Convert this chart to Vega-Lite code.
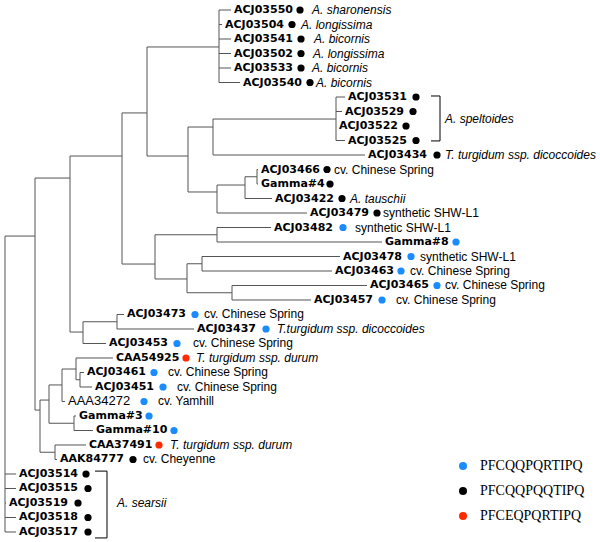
{
  "$schema": "https://vega.github.io/schema/vega-lite/v6.json",
  "width": 600,
  "height": 542,
  "autosize": {"type": "none"},
  "padding": 0,
  "background": "white",
  "config": {"view": {"stroke": null}},
  "datasets": {
    "leaves": [
      {"row": 0, "id": "ACJ03550", "parent": 219, "tip": 231, "dotX": 300, "seq": "PFCQQPQQTIPQ", "note": "A. sharonensis", "kind": "species", "noteX": 312},
      {"row": 1, "id": "ACJ03504", "parent": 219, "tip": 222, "dotX": 292, "seq": "PFCQQPQQTIPQ", "note": "A. longissima", "kind": "species", "noteX": 301},
      {"row": 2, "id": "ACJ03541", "parent": 219, "tip": 231, "dotX": 301, "seq": "PFCQQPQQTIPQ", "note": "A. bicornis", "kind": "species", "noteX": 314},
      {"row": 3, "id": "ACJ03502", "parent": 219, "tip": 231, "dotX": 301, "seq": "PFCQQPQQTIPQ", "note": "A. longissima", "kind": "species", "noteX": 313},
      {"row": 4, "id": "ACJ03533", "parent": 219, "tip": 231, "dotX": 301, "seq": "PFCQQPQQTIPQ", "note": "A. bicornis", "kind": "species", "noteX": 312},
      {"row": 5, "id": "ACJ03540", "parent": 219, "tip": 240, "dotX": 310, "seq": "PFCQQPQQTIPQ", "note": "A. bicornis", "kind": "species", "noteX": 316},
      {"row": 6, "id": "ACJ03531", "parent": 336, "tip": 345, "dotX": 416, "seq": "PFCQQPQQTIPQ", "note": "", "kind": "none", "noteX": 0},
      {"row": 7, "id": "ACJ03529", "parent": 336, "tip": 342, "dotX": 413, "seq": "PFCQQPQQTIPQ", "note": "", "kind": "none", "noteX": 0},
      {"row": 8, "id": "ACJ03522", "parent": 336, "tip": 336, "dotX": 406, "seq": "PFCQQPQQTIPQ", "note": "", "kind": "none", "noteX": 0},
      {"row": 9, "id": "ACJ03525", "parent": 336, "tip": 345, "dotX": 416, "seq": "PFCQQPQQTIPQ", "note": "", "kind": "none", "noteX": 0},
      {"row": 10, "id": "ACJ03434", "parent": 213, "tip": 365, "dotX": 437, "seq": "PFCQQPQQTIPQ", "note": "T. turgidum ssp. dicoccoides", "kind": "species", "noteX": 445},
      {"row": 11, "id": "ACJ03466", "parent": 257, "tip": 258, "dotX": 327, "seq": "PFCQQPQQTIPQ", "note": "cv. Chinese Spring", "kind": "line", "noteX": 334},
      {"row": 12, "id": "Gamma#4", "parent": 257, "tip": 258, "dotX": 330, "seq": "PFCQQPQQTIPQ", "note": "", "kind": "none", "noteX": 0},
      {"row": 13, "id": "ACJ03422", "parent": 245, "tip": 272, "dotX": 342, "seq": "PFCQQPQQTIPQ", "note": "A. tauschii", "kind": "species", "noteX": 350},
      {"row": 14, "id": "ACJ03479", "parent": 217, "tip": 307, "dotX": 377, "seq": "PFCQQPQQTIPQ", "note": "synthetic SHW-L1", "kind": "line", "noteX": 383},
      {"row": 15, "id": "ACJ03482", "parent": 217, "tip": 271, "dotX": 343, "seq": "PFCQQPQRTIPQ", "note": "synthetic SHW-L1", "kind": "line", "noteX": 355},
      {"row": 16, "id": "Gamma#8", "parent": 217, "tip": 382, "dotX": 456, "seq": "PFCQQPQRTIPQ", "note": "", "kind": "none", "noteX": 0},
      {"row": 17, "id": "ACJ03478", "parent": 202, "tip": 340, "dotX": 411, "seq": "PFCQQPQRTIPQ", "note": "synthetic SHW-L1", "kind": "line", "noteX": 420},
      {"row": 18, "id": "ACJ03463", "parent": 202, "tip": 332, "dotX": 401, "seq": "PFCQQPQRTIPQ", "note": "cv. Chinese Spring", "kind": "line", "noteX": 410},
      {"row": 19, "id": "ACJ03465", "parent": 232, "tip": 367, "dotX": 437, "seq": "PFCQQPQRTIPQ", "note": "cv. Chinese Spring", "kind": "line", "noteX": 445},
      {"row": 20, "id": "ACJ03457", "parent": 232, "tip": 311, "dotX": 382, "seq": "PFCQQPQRTIPQ", "note": "cv. Chinese Spring", "kind": "line", "noteX": 396},
      {"row": 21, "id": "ACJ03473", "parent": 117, "tip": 124, "dotX": 195, "seq": "PFCQQPQRTIPQ", "note": "cv. Chinese Spring", "kind": "line", "noteX": 204},
      {"row": 22, "id": "ACJ03437", "parent": 117, "tip": 194, "dotX": 266, "seq": "PFCQQPQRTIPQ", "note": "T.turgidum ssp. dicoccoides", "kind": "species", "noteX": 277},
      {"row": 23, "id": "ACJ03453", "parent": 83, "tip": 106, "dotX": 177, "seq": "PFCQQPQRTIPQ", "note": "cv. Chinese Spring", "kind": "line", "noteX": 193},
      {"row": 24, "id": "CAA54925", "parent": 76, "tip": 113, "dotX": 186, "seq": "PFCEQPQRTIPQ", "note": "T. turgidum ssp. durum", "kind": "species", "noteX": 196},
      {"row": 25, "id": "ACJ03461", "parent": 80, "tip": 84, "dotX": 154, "seq": "PFCQQPQRTIPQ", "note": "cv. Chinese Spring", "kind": "line", "noteX": 168},
      {"row": 26, "id": "ACJ03451", "parent": 80, "tip": 92, "dotX": 163, "seq": "PFCQQPQRTIPQ", "note": "cv. Chinese Spring", "kind": "line", "noteX": 177},
      {"row": 27, "id": "AAA34272", "parent": 62, "tip": 65, "dotX": 144, "seq": "PFCQQPQRTIPQ", "note": "cv. Yamhill", "kind": "line", "noteX": 158},
      {"row": 28, "id": "Gamma#3", "parent": 74, "tip": 76, "dotX": 149, "seq": "PFCQQPQRTIPQ", "note": "", "kind": "none", "noteX": 0},
      {"row": 29, "id": "Gamma#10", "parent": 74, "tip": 93, "dotX": 174, "seq": "PFCQQPQRTIPQ", "note": "", "kind": "none", "noteX": 0},
      {"row": 30, "id": "CAA37491", "parent": 55, "tip": 86, "dotX": 159, "seq": "PFCEQPQRTIPQ", "note": "T. turgidum ssp. durum", "kind": "species", "noteX": 170},
      {"row": 31, "id": "AAK84777", "parent": 55, "tip": 57, "dotX": 133, "seq": "PFCQQPQQTIPQ", "note": "cv. Cheyenne", "kind": "line", "noteX": 143},
      {"row": 32, "id": "ACJ03514", "parent": 5, "tip": 16, "dotX": 86, "seq": "PFCQQPQQTIPQ", "note": "", "kind": "none", "noteX": 0},
      {"row": 33, "id": "ACJ03515", "parent": 5, "tip": 16, "dotX": 88, "seq": "PFCQQPQQTIPQ", "note": "", "kind": "none", "noteX": 0},
      {"row": 34, "id": "ACJ03519", "parent": 5, "tip": 6, "dotX": 78, "seq": "PFCQQPQQTIPQ", "note": "", "kind": "none", "noteX": 0},
      {"row": 35, "id": "ACJ03518", "parent": 5, "tip": 16, "dotX": 88, "seq": "PFCQQPQQTIPQ", "note": "", "kind": "none", "noteX": 0},
      {"row": 36, "id": "ACJ03517", "parent": 5, "tip": 16, "dotX": 88, "seq": "PFCQQPQQTIPQ", "note": "", "kind": "none", "noteX": 0}
    ],
    "nodes": [
      {"node": "R", "x": 5, "top": 15.59, "bot": 36, "px": 5, "cy": 15.59},
      {"node": "N35", "x": 35, "top": 11.59, "bot": 27.59, "px": 5, "cy": 15.59},
      {"node": "N70", "x": 70, "top": 10.07, "bot": 22.21, "px": 35, "cy": 11.59},
      {"node": "N122", "x": 122, "top": 7.1, "bot": 17.52, "px": 70, "cy": 10.07},
      {"node": "N147", "x": 147, "top": 2.55, "bot": 10.07, "px": 122, "cy": 7.1},
      {"node": "N219", "x": 219, "top": 0, "bot": 5, "px": 147, "cy": 2.55},
      {"node": "N188", "x": 188, "top": 8.07, "bot": 12.55, "px": 147, "cy": 10.07},
      {"node": "N213", "x": 213, "top": 7.52, "bot": 10, "px": 188, "cy": 8.07},
      {"node": "N336", "x": 336, "top": 6, "bot": 9, "px": 213, "cy": 7.52},
      {"node": "N217a", "x": 217, "top": 12.07, "bot": 14, "px": 188, "cy": 12.55},
      {"node": "N245", "x": 245, "top": 11.5, "bot": 13, "px": 217, "cy": 12.07},
      {"node": "N257", "x": 257, "top": 11, "bot": 12, "px": 245, "cy": 11.5},
      {"node": "N155", "x": 155, "top": 15.5, "bot": 18.55, "px": 122, "cy": 17.52},
      {"node": "N217b", "x": 217, "top": 15, "bot": 16, "px": 155, "cy": 15.5},
      {"node": "N187", "x": 187, "top": 17.5, "bot": 19.5, "px": 155, "cy": 18.55},
      {"node": "N202", "x": 202, "top": 17, "bot": 18, "px": 187, "cy": 17.5},
      {"node": "N232", "x": 232, "top": 19, "bot": 20, "px": 187, "cy": 19.5},
      {"node": "N83", "x": 83, "top": 21.5, "bot": 23, "px": 70, "cy": 22.21},
      {"node": "N117", "x": 117, "top": 21, "bot": 22, "px": 83, "cy": 21.5},
      {"node": "N40", "x": 40, "top": 26.9, "bot": 30.5, "px": 35, "cy": 27.59},
      {"node": "N49", "x": 49, "top": 25.86, "bot": 28.5, "px": 40, "cy": 26.9},
      {"node": "N62", "x": 62, "top": 24.76, "bot": 27, "px": 49, "cy": 25.86},
      {"node": "N76", "x": 76, "top": 24, "bot": 25.5, "px": 62, "cy": 24.76},
      {"node": "N80", "x": 80, "top": 25, "bot": 26, "px": 76, "cy": 25.5},
      {"node": "N74", "x": 74, "top": 28, "bot": 29, "px": 49, "cy": 28.5},
      {"node": "N55", "x": 55, "top": 30, "bot": 31, "px": 40, "cy": 30.5}
    ],
    "brackets": [
      {"group": "A. speltoides", "x": 440, "x0": 431, "top": 5.93, "bot": 9.03, "labelX": 445, "labelRow": 7.5},
      {"group": "A. searsii", "x": 107, "x0": 95, "top": 31.8, "bot": 36.41, "labelX": 117, "labelRow": 34}
    ]
  },
  "layer": [
    {
      "data": {"name": "leaves"},
      "mark": {"type": "rule", "color": "#555555", "strokeWidth": 1},
      "encoding": {
        "x": {"field": "parent", "type": "quantitative", "scale": {"domain": [0, 600], "nice": false, "zero": false}, "axis": null},
        "x2": {"field": "tip"},
        "y": {"field": "row", "type": "quantitative", "scale": {"domain": [-0.69, 36.69], "reverse": true, "nice": false, "zero": false}, "axis": null}
      }
    },
    {
      "data": {"name": "nodes"},
      "mark": {"type": "rule", "color": "#555555", "strokeWidth": 1},
      "encoding": {
        "x": {"field": "x", "type": "quantitative", "scale": {"domain": [0, 600], "nice": false, "zero": false}, "axis": null},
        "y": {"field": "top", "type": "quantitative", "scale": {"domain": [-0.69, 36.69], "reverse": true, "nice": false, "zero": false}, "axis": null},
        "y2": {"field": "bot"}
      }
    },
    {
      "data": {"name": "nodes"},
      "mark": {"type": "rule", "color": "#555555", "strokeWidth": 1},
      "encoding": {
        "x": {"field": "px", "type": "quantitative", "scale": {"domain": [0, 600], "nice": false, "zero": false}, "axis": null},
        "x2": {"field": "x"},
        "y": {"field": "cy", "type": "quantitative", "scale": {"domain": [-0.69, 36.69], "reverse": true, "nice": false, "zero": false}, "axis": null}
      }
    },
    {
      "data": {"name": "brackets"},
      "mark": {"type": "rule", "color": "#000000", "strokeWidth": 1},
      "encoding": {
        "x": {"field": "x", "type": "quantitative", "scale": {"domain": [0, 600], "nice": false, "zero": false}, "axis": null},
        "y": {"field": "top", "type": "quantitative", "scale": {"domain": [-0.69, 36.69], "reverse": true, "nice": false, "zero": false}, "axis": null},
        "y2": {"field": "bot"}
      }
    },
    {
      "data": {"name": "brackets"},
      "mark": {"type": "rule", "color": "#000000", "strokeWidth": 1},
      "encoding": {
        "x": {"field": "x0", "type": "quantitative", "scale": {"domain": [0, 600], "nice": false, "zero": false}, "axis": null},
        "x2": {"field": "x"},
        "y": {"field": "top", "type": "quantitative", "scale": {"domain": [-0.69, 36.69], "reverse": true, "nice": false, "zero": false}, "axis": null}
      }
    },
    {
      "data": {"name": "brackets"},
      "mark": {"type": "rule", "color": "#000000", "strokeWidth": 1},
      "encoding": {
        "x": {"field": "x0", "type": "quantitative", "scale": {"domain": [0, 600], "nice": false, "zero": false}, "axis": null},
        "x2": {"field": "x"},
        "y": {"field": "bot", "type": "quantitative", "scale": {"domain": [-0.69, 36.69], "reverse": true, "nice": false, "zero": false}, "axis": null}
      }
    },
    {
      "data": {"name": "brackets"},
      "mark": {"type": "text", "align": "left", "baseline": "middle", "font": "Liberation Sans", "fontSize": 12, "fontStyle": "italic", "color": "#000000"},
      "encoding": {
        "x": {"field": "labelX", "type": "quantitative", "scale": {"domain": [0, 600], "nice": false, "zero": false}, "axis": null},
        "y": {"field": "labelRow", "type": "quantitative", "scale": {"domain": [-0.69, 36.69], "reverse": true, "nice": false, "zero": false}, "axis": null},
        "text": {"field": "group"}
      }
    },
    {
      "data": {"name": "leaves"},
      "mark": {"type": "point", "shape": "circle", "filled": true, "size": 52, "opacity": 1},
      "encoding": {
        "x": {"field": "dotX", "type": "quantitative", "scale": {"domain": [0, 600], "nice": false, "zero": false}, "axis": null},
        "y": {"field": "row", "type": "quantitative", "scale": {"domain": [-0.69, 36.69], "reverse": true, "nice": false, "zero": false}, "axis": null},
        "color": {
          "field": "seq", "type": "nominal",
          "scale": {"domain": ["PFCQQPQRTIPQ", "PFCQQPQQTIPQ", "PFCEQPQRTIPQ"], "range": ["#1a8cff", "#000000", "#ff2a00"]},
          "legend": {"title": null, "orient": "none", "legendX": 456, "legendY": 459, "direction": "vertical", "symbolType": "circle", "symbolSize": 64, "symbolStrokeWidth": 0, "symbolOpacity": 1, "labelFont": "Liberation Serif", "labelFontSize": 14, "labelColor": "#000000", "labelOffset": 10, "rowPadding": 11, "padding": 0}
        }
      }
    },
    {
      "data": {"name": "leaves"},
      "transform": [{"filter": "datum.id !== 'AAA34272'"}],
      "mark": {"type": "text", "align": "left", "baseline": "middle", "font": "DejaVu Sans", "fontWeight": "bold", "fontSize": 11, "dx": 3, "color": "#000000"},
      "encoding": {
        "x": {"field": "tip", "type": "quantitative", "scale": {"domain": [0, 600], "nice": false, "zero": false}, "axis": null},
        "y": {"field": "row", "type": "quantitative", "scale": {"domain": [-0.69, 36.69], "reverse": true, "nice": false, "zero": false}, "axis": null},
        "text": {"field": "id"}
      }
    },
    {
      "data": {"name": "leaves"},
      "transform": [{"filter": "datum.id === 'AAA34272'"}],
      "mark": {"type": "text", "align": "left", "baseline": "middle", "font": "Liberation Sans", "fontSize": 13, "dx": 3, "color": "#000000"},
      "encoding": {
        "x": {"field": "tip", "type": "quantitative", "scale": {"domain": [0, 600], "nice": false, "zero": false}, "axis": null},
        "y": {"field": "row", "type": "quantitative", "scale": {"domain": [-0.69, 36.69], "reverse": true, "nice": false, "zero": false}, "axis": null},
        "text": {"field": "id"}
      }
    },
    {
      "data": {"name": "leaves"},
      "transform": [{"filter": "datum.kind === 'species'"}],
      "mark": {"type": "text", "align": "left", "baseline": "middle", "font": "Liberation Sans", "fontSize": 12, "fontStyle": "italic", "color": "#000000"},
      "encoding": {
        "x": {"field": "noteX", "type": "quantitative", "scale": {"domain": [0, 600], "nice": false, "zero": false}, "axis": null},
        "y": {"field": "row", "type": "quantitative", "scale": {"domain": [-0.69, 36.69], "reverse": true, "nice": false, "zero": false}, "axis": null},
        "text": {"field": "note"}
      }
    },
    {
      "data": {"name": "leaves"},
      "transform": [{"filter": "datum.kind === 'line'"}],
      "mark": {"type": "text", "align": "left", "baseline": "middle", "font": "Liberation Sans", "fontSize": 12, "color": "#000000"},
      "encoding": {
        "x": {"field": "noteX", "type": "quantitative", "scale": {"domain": [0, 600], "nice": false, "zero": false}, "axis": null},
        "y": {"field": "row", "type": "quantitative", "scale": {"domain": [-0.69, 36.69], "reverse": true, "nice": false, "zero": false}, "axis": null},
        "text": {"field": "note"}
      }
    }
  ]
}
